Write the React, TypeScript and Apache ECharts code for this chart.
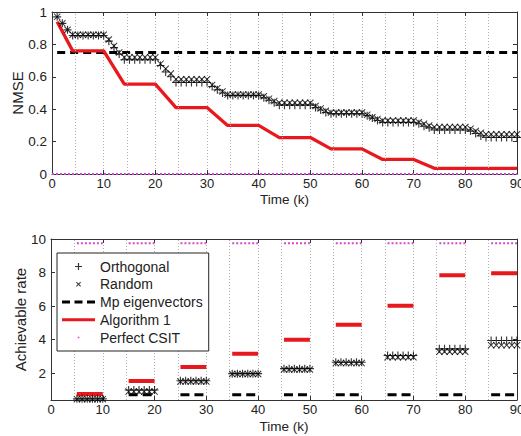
import React, { useEffect, useRef } from 'react';
import * as echarts from 'echarts';

// ---------- Data ----------
// Time index k = 1..90 (top panel)
const timeK = [
  1, 2, 3, 4, 5, 6, 7, 8, 9, 10, 11, 12, 13, 14, 15, 16, 17, 18, 19, 20,
  21, 22, 23, 24, 25, 26, 27, 28, 29, 30, 31, 32, 33, 34, 35, 36, 37, 38, 39, 40,
  41, 42, 43, 44, 45, 46, 47, 48, 49, 50, 51, 52, 53, 54, 55, 56, 57, 58, 59, 60,
  61, 62, 63, 64, 65, 66, 67, 68, 69, 70, 71, 72, 73, 74, 75, 76, 77, 78, 79, 80,
  81, 82, 83, 84, 85, 86, 87, 88, 89, 90,
];

const nmseOrthogonal = [
  0.97, 0.93, 0.89, 0.855, 0.855, 0.855, 0.855, 0.855, 0.855, 0.855,
  0.82, 0.78, 0.74, 0.705, 0.705, 0.705, 0.705, 0.705, 0.705, 0.705,
  0.67, 0.63, 0.6, 0.565, 0.565, 0.565, 0.565, 0.565, 0.565, 0.565,
  0.54, 0.52, 0.5, 0.485, 0.485, 0.485, 0.485, 0.485, 0.485, 0.485,
  0.47, 0.455, 0.44, 0.425, 0.425, 0.425, 0.425, 0.425, 0.425, 0.425,
  0.41, 0.395, 0.38, 0.372, 0.372, 0.372, 0.372, 0.372, 0.372, 0.372,
  0.36, 0.345, 0.33, 0.318, 0.318, 0.318, 0.318, 0.318, 0.318, 0.318,
  0.31, 0.295, 0.285, 0.272, 0.272, 0.272, 0.272, 0.272, 0.272, 0.272,
  0.265, 0.25, 0.235, 0.225, 0.225, 0.225, 0.225, 0.225, 0.225, 0.225,
];

const nmseRandom = [
  0.97, 0.93, 0.89, 0.86, 0.86, 0.86, 0.86, 0.86, 0.86, 0.86,
  0.83, 0.79, 0.75, 0.72, 0.72, 0.72, 0.72, 0.72, 0.72, 0.72,
  0.68, 0.65, 0.62, 0.585, 0.585, 0.585, 0.585, 0.585, 0.585, 0.585,
  0.55, 0.53, 0.51, 0.49, 0.49, 0.49, 0.49, 0.49, 0.49, 0.49,
  0.48, 0.465, 0.45, 0.44, 0.44, 0.44, 0.44, 0.44, 0.44, 0.44,
  0.42, 0.405, 0.39, 0.38, 0.38, 0.38, 0.38, 0.38, 0.38, 0.38,
  0.365, 0.35, 0.34, 0.33, 0.33, 0.33, 0.33, 0.33, 0.33, 0.33,
  0.32, 0.31, 0.3, 0.29, 0.29, 0.29, 0.29, 0.29, 0.29, 0.29,
  0.28, 0.265, 0.255, 0.245, 0.245, 0.245, 0.245, 0.245, 0.245, 0.245,
];

const nmseAlgK = [1, 4, 10, 14, 20, 24, 30, 34, 40, 44, 50, 54, 60, 64, 70, 74, 90];
const nmseAlgorithm = [0.94, 0.76, 0.76, 0.555, 0.555, 0.41, 0.41, 0.3, 0.3, 0.225, 0.225, 0.155, 0.155, 0.09, 0.09, 0.035, 0.035];

const nmseMpK = [1, 90];
const nmseMp = [0.75, 0.75];

const nmseCsitK = [0, 90];
const nmseCsit = [0, 0];

// Bottom panel: blocks of time slots
const blockStart = [5, 15, 25, 35, 45, 55, 65, 75, 85];
const blockEnd = [10, 20, 30, 40, 50, 60, 70, 80, 90];
const rateOrthogonal = [0.47, 1.0, 1.55, 1.97, 2.27, 2.65, 3.05, 3.45, 3.95];
const rateRandom = [0.45, 0.9, 1.5, 1.95, 2.22, 2.6, 2.95, 3.28, 3.67];
const rateAlgorithm = [0.76, 1.53, 2.37, 3.16, 3.99, 4.88, 6.02, 7.84, 7.96];
const rateMp = [0.72, 0.72, 0.72, 0.72, 0.72, 0.72, 0.72, 0.72, 0.72];
const rateCsit = [9.75, 9.75, 9.75, 9.75, 9.75, 9.75, 9.75, 9.75, 9.75];

// extra dotted vertical guide lines
const guideLinesK = [4.5, 14.5, 24.5, 34.5, 44.5, 54.5, 64.5, 74.5, 84.5];

const legendNames = ['Orthogonal', 'Random', 'Mp eigenvectors', 'Algorithm 1', 'Perfect CSIT'];

// ---------- Styles ----------
const FONT = '"Liberation Sans", Arial, Helvetica, sans-serif';
const TXT = '#222';
const RED = '#e8191c';
const MAG = '#d24bd2';
const GRIDC = '#b0b0b0';

const plusPath = 'path://M4.3,0h1.4v10h-1.4zM0,4.3h10v1.4h-10z';
const crossPath = 'path://M1,0L5,4L9,0L10,1L6,5L10,9L9,10L5,6L1,10L0,9L4,5L0,1Z';

const iconPlus = 'path://M0,0M33,14M15.9,3.5h1.2v7h-1.2zM13,6.4h7v1.2h-7z';
const iconCross = 'path://M0,0M33,14M14,5.2L14.7,4.5L19,8.8L18.3,9.5ZM18.3,4.5L19,5.2L14.7,9.5L14,8.8Z';
const iconDash = 'path://M0,0M33,14M0,5.5h8v3h-8zM12.5,5.5h8v3h-8zM25,5.5h8v3h-8z';
const iconLine = 'path://M0,0M33,14M0,5.5h33v3h-33z';
const iconDot = 'path://M0,0M33,14M15.7,6.2h1.6v1.6h-1.6z';
const legendIcons = [iconPlus, iconCross, iconDash, iconLine, iconDot];

function pairs(xs: number[], ys: number[]) {
  return xs.map((x, i) => [x, ys[i]]);
}

function blockSegments(vals: number[]) {
  const d: any[] = [];
  blockStart.forEach((s, i) => {
    d.push([s, vals[i]], [blockEnd[i], vals[i]], [blockEnd[i], '-']);
  });
  return d;
}

function blockPoints(vals: number[]) {
  const d: any[] = [];
  blockStart.forEach((s, i) => {
    for (let k = s; k <= blockEnd[i]; k++) d.push([k, vals[i]]);
  });
  return d;
}

function xAxes(grid: number, nameGap: number) {
  const common = {
    gridIndex: grid,
    type: 'value',
    min: 0,
    max: 90,
    interval: 10,
    axisLine: { show: true, onZero: false, lineStyle: { color: '#333', width: 1 } },
    axisTick: { show: true, inside: true, length: 4, lineStyle: { color: '#333' } },
  };
  return [
    {
      ...common,
      position: 'bottom',
      axisLabel: { fontFamily: FONT, fontSize: 13, color: TXT, margin: 3, hideOverlap: false },
      splitLine: { show: true, lineStyle: { color: GRIDC, type: [1, 2], width: 1 } },
      name: 'Time (k)',
      nameLocation: 'middle',
      nameGap,
      nameMoveOverlap: false,
      nameTextStyle: { fontFamily: FONT, fontSize: 13.5, color: TXT },
    },
    {
      ...common,
      position: 'top',
      axisLabel: { show: false },
      splitLine: { show: false },
    },
  ];
}

function yAxes(grid: number, min: number, max: number, extra: any, name: string, nameGap: number) {
  const common = {
    gridIndex: grid,
    type: 'value',
    min,
    max,
    ...extra,
    axisLine: { show: true, onZero: false, lineStyle: { color: '#333', width: 1 } },
    axisTick: { show: true, inside: true, length: 4, lineStyle: { color: '#333' } },
    splitLine: { show: false },
  };
  return [
    {
      ...common,
      position: 'left',
      axisLabel: { fontFamily: FONT, fontSize: 13.5, color: TXT, margin: 5, showMinLabel: grid === 0 },
      name,
      nameLocation: 'middle',
      nameGap,
      nameMoveOverlap: false,
      nameTextStyle: { fontFamily: FONT, fontSize: 15, color: TXT },
    },
    {
      ...common,
      position: 'right',
      axisLabel: { show: false },
    },
  ];
}

const guideMarkLine = {
  silent: true,
  symbol: ['none', 'none'],
  label: { show: false },
  lineStyle: { color: GRIDC, type: [1, 2], width: 1 },
  data: guideLinesK.map((x) => ({ xAxis: x })),
};

export default function App() {
  const ref = useRef<HTMLDivElement>(null);

  useEffect(() => {
    if (!ref.current) return;
    const chart = echarts.init(ref.current, null, { renderer: 'svg' });

    const option: any = {
      animation: false,
      backgroundColor: '#fff',
      textStyle: { fontFamily: FONT },
      grid: [
        { left: 52, top: 12, width: 465, height: 162, show: false, containLabel: false, outerBoundsMode: 'none' },
        { left: 51, top: 239, width: 466, height: 161, show: false, containLabel: false, outerBoundsMode: 'none' },
      ],
      xAxis: [...xAxes(0, 18), ...xAxes(1, 19)],
      yAxis: [
        ...yAxes(0, 0, 1, { interval: 0.2 }, 'NMSE', 27),
        ...yAxes(1, 0.4, 10, { splitNumber: 5 }, 'Achievable rate', 23),
      ],
      legend: {
        data: legendNames.map((n, i) => ({ name: n, icon: legendIcons[i] })),
        orient: 'vertical',
        left: 57,
        top: 253,
        itemWidth: 33,
        itemHeight: 14,
        itemGap: 3.75,
        padding: [6.5, 6, 6.5, 5],
        backgroundColor: '#fff',
        borderColor: '#222',
        borderWidth: 1,
        borderRadius: 0,
        selectedMode: false,
        itemStyle: { borderWidth: 0 },
        textStyle: { fontFamily: FONT, fontSize: 14, color: TXT, lineHeight: 14 },
        z: 10,
      },
      series: [
        // ---- top panel ----
        {
          name: 'Perfect CSIT',
          type: 'line',
          xAxisIndex: 0,
          yAxisIndex: 0,
          data: pairs(nmseCsitK, nmseCsit),
          symbol: 'none',
          color: MAG,
          itemStyle: { color: MAG, borderWidth: 0 },
          lineStyle: { color: MAG, width: 2, type: [2, 2] },
          markLine: guideMarkLine,
          clip: false,
          z: 3,
        },
        {
          name: 'Mp eigenvectors',
          type: 'line',
          xAxisIndex: 0,
          yAxisIndex: 0,
          data: pairs(nmseMpK, nmseMp),
          symbol: 'none',
          color: '#000',
          itemStyle: { color: '#000', borderWidth: 0 },
          lineStyle: { color: '#000', width: 3, type: [8, 5] },
          z: 3,
        },
        {
          name: 'Algorithm 1',
          type: 'line',
          xAxisIndex: 0,
          yAxisIndex: 0,
          data: pairs(nmseAlgK, nmseAlgorithm),
          symbol: 'none',
          color: RED,
          itemStyle: { color: RED, borderWidth: 0 },
          lineStyle: { color: RED, width: 3.3 },
          z: 4,
        },
        {
          name: 'Orthogonal',
          type: 'scatter',
          xAxisIndex: 0,
          yAxisIndex: 0,
          data: pairs(timeK, nmseOrthogonal),
          symbol: plusPath,
          symbolSize: 8,
          color: '#000',
          itemStyle: { color: '#000', borderWidth: 0 },
          z: 5,
        },
        {
          name: 'Random',
          type: 'scatter',
          xAxisIndex: 0,
          yAxisIndex: 0,
          data: pairs(timeK, nmseRandom),
          symbol: crossPath,
          symbolSize: 7,
          color: '#000',
          itemStyle: { color: '#000', borderWidth: 0 },
          z: 5,
        },
        // ---- bottom panel ----
        {
          name: 'Perfect CSIT',
          type: 'line',
          xAxisIndex: 2,
          yAxisIndex: 2,
          data: blockSegments(rateCsit),
          symbol: 'none',
          color: MAG,
          itemStyle: { color: MAG, borderWidth: 0 },
          lineStyle: { color: MAG, width: 2, type: [2, 2] },
          markLine: guideMarkLine,
          z: 3,
        },
        {
          name: 'Mp eigenvectors',
          type: 'line',
          xAxisIndex: 2,
          yAxisIndex: 2,
          data: blockSegments(rateMp),
          symbol: 'none',
          color: '#000',
          itemStyle: { color: '#000', borderWidth: 0 },
          lineStyle: { color: '#000', width: 3, type: [9, 5] },
          z: 3,
        },
        {
          name: 'Algorithm 1',
          type: 'line',
          xAxisIndex: 2,
          yAxisIndex: 2,
          data: blockSegments(rateAlgorithm),
          symbol: 'none',
          color: RED,
          itemStyle: { color: RED, borderWidth: 0 },
          lineStyle: { color: RED, width: 4 },
          z: 4,
        },
        {
          name: 'Orthogonal',
          type: 'scatter',
          xAxisIndex: 2,
          yAxisIndex: 2,
          data: blockPoints(rateOrthogonal),
          symbol: plusPath,
          symbolSize: 8,
          color: '#000',
          itemStyle: { color: '#000', borderWidth: 0 },
          z: 5,
        },
        {
          name: 'Random',
          type: 'scatter',
          xAxisIndex: 2,
          yAxisIndex: 2,
          data: blockPoints(rateRandom),
          symbol: crossPath,
          symbolSize: 7,
          color: '#000',
          itemStyle: { color: '#000', borderWidth: 0 },
          z: 5,
        },
      ],
    };

    chart.setOption(option);
    return () => chart.dispose();
  }, []);

  return (
    <div
      ref={ref}
      style={{ position: 'absolute', left: 0, top: 0, width: 521, height: 436, background: '#fff' }}
    />
  );
}
